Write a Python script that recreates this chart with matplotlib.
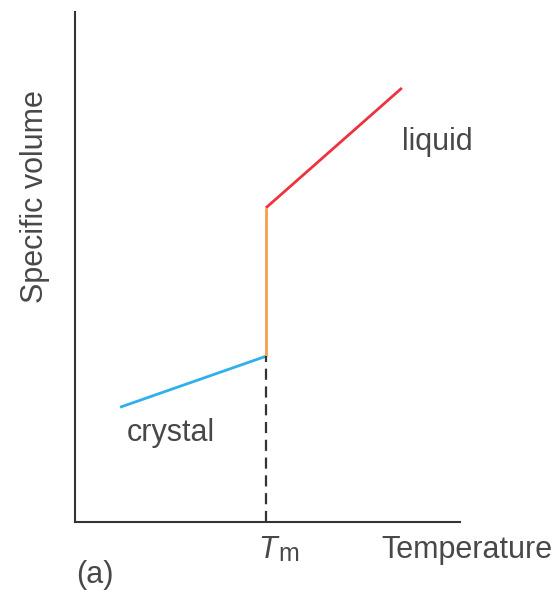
import matplotlib
matplotlib.use("Agg")
import matplotlib.pyplot as plt

plt.rcParams['font.family'] = ['Liberation Sans', 'DejaVu Sans']

# schematic values (arbitrary units)
tm = 4.96
crystal_t = [1.17, tm]
crystal_v = [2.25, 3.25]
melt_v = [3.25, 6.16]
liquid_t = [tm, 8.49]
liquid_v = [6.16, 8.51]

W, H = 556, 593
fig = plt.figure(figsize=(W / 100, H / 100), dpi=100)
ax = fig.add_axes([75 / W, (H - 522) / H, (460 - 75) / W, (522 - 12) / H])
ax.set_xlim(0, 10)
ax.set_ylim(0, 10)

txt = '#484848'
fs = 22
ax.plot(crystal_t, crystal_v, color='#2fb0ec', lw=2, solid_capstyle='butt')
ax.plot([tm, tm], melt_v, color='#f7a04c', lw=2, solid_capstyle='butt')
ax.plot(liquid_t, liquid_v, color='#ee3340', lw=2, solid_capstyle='butt')
ax.plot([tm, tm], [0, crystal_v[1]], color='#333333', lw=1.6, dashes=(5, 3))

ax.text(1.35, 1.75, 'crystal', fontsize=fs, color=txt, va='center', ha='left')
ax.text(8.5, 7.45, 'liquid', fontsize=fs, color=txt, va='center', ha='left')

for s in ['top', 'right']:
    ax.spines[s].set_visible(False)
for s in ['left', 'bottom']:
    ax.spines[s].set_color('#333333')
    ax.spines[s].set_linewidth(1.5)
ax.set_xticks([])
ax.set_yticks([])

fig.text(35 / W, 1 - 197 / H, 'Specific volume', fontsize=fs, color=txt,
         rotation=90, ha='center', va='center')
fig.text(553 / W, 1 - 550 / H, 'Temperature', fontsize=fs, color=txt, ha='right', va='center')
fig.text(258 / W, 1 - 558 / H, 'T', fontsize=fs, style='italic', color=txt, ha='left', va='baseline')
fig.text(278 / W, 1 - 561 / H, 'm', fontsize=18, color=txt, ha='left', va='baseline')
fig.text(76 / W, 1 - 575 / H, '(a)', fontsize=fs, color=txt, ha='left', va='center')

fig.savefig('out.png', dpi=100)
